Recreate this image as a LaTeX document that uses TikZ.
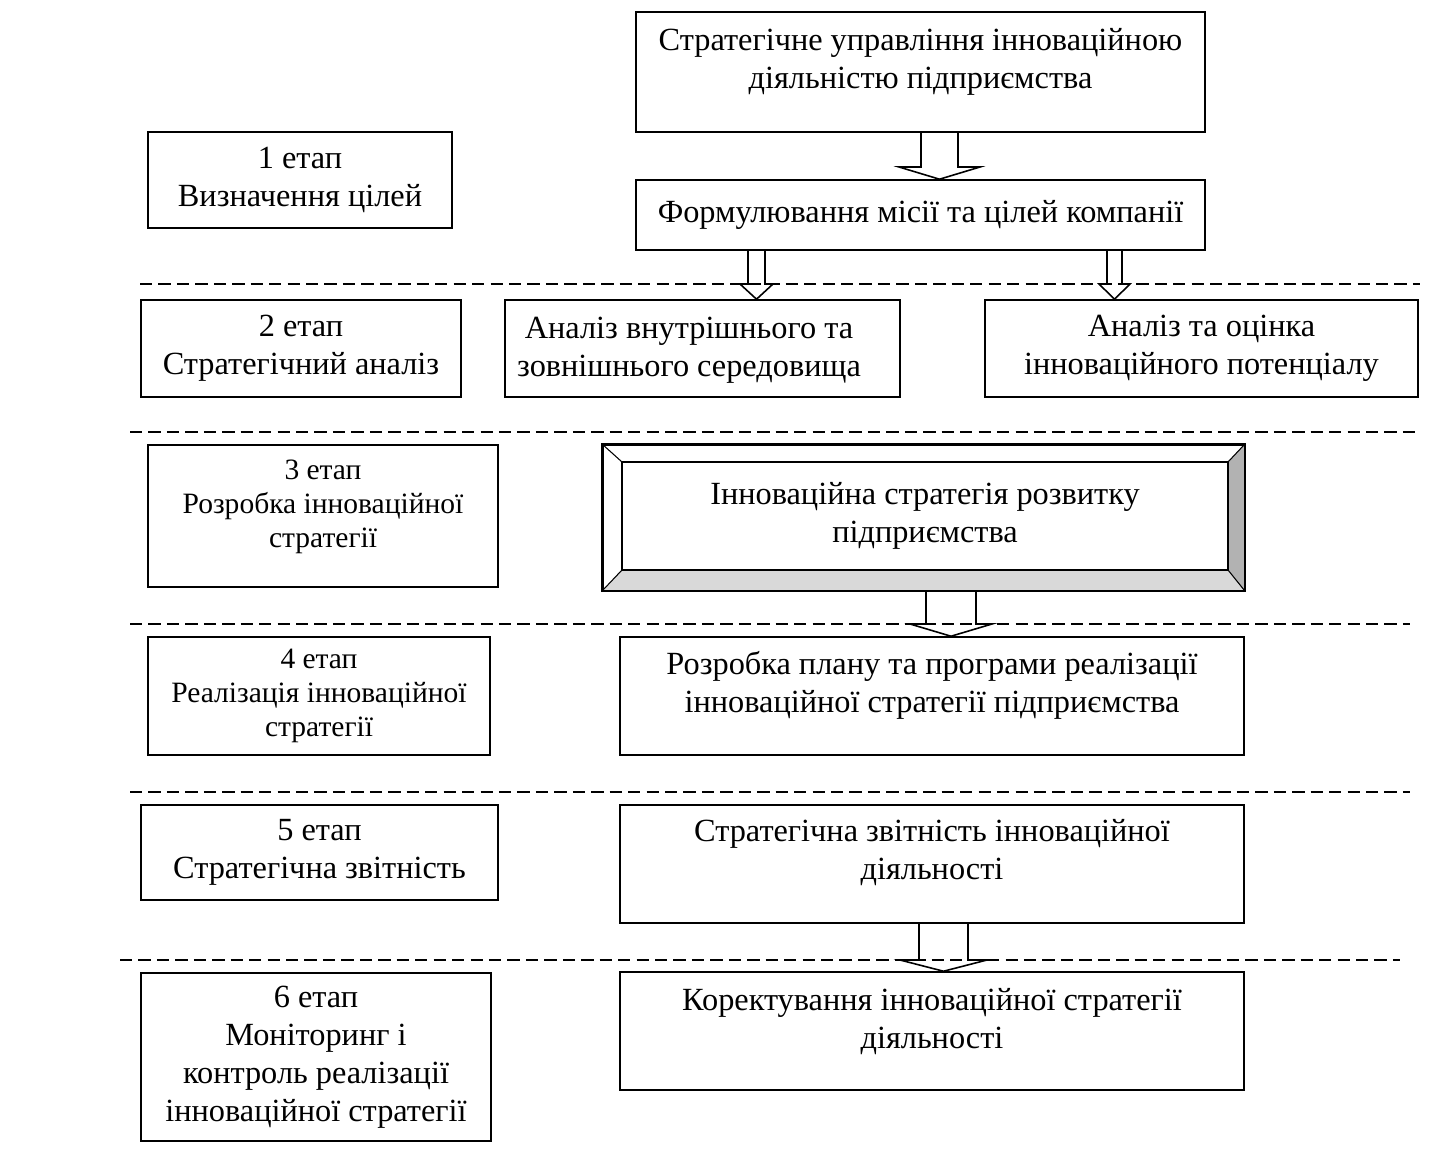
\documentclass[tikz,border=0pt]{standalone}
\usepackage{fontspec}
\setmainfont{Liberation Serif}

\begin{document}
\begin{tikzpicture}[
  x=0.02cm, y=-0.02cm,
  %% Plain framed boxes
  box/.style={
    draw=black, line width=0.9pt, rectangle, fill=white, inner sep=0pt
  },
  %% Box texts — main size and the smaller one of stages 3 and 4
  txt/.style={align=center, inner sep=0pt, font=\fontsize{18.4}{21.6}\selectfont},
  stxt/.style={align=center, inner sep=0pt, font=\fontsize{16.8}{19.3}\selectfont},
  %% Hollow block arrows and the dashed stage separators
  barr/.style={draw=black, line width=0.9pt},
  sep/.style={line width=1.1pt, dash pattern=on 7pt off 3.5pt}
]
\useasboundingbox (0,0) rectangle (1436,1165);

%% ── Stage separators ─────────────────────────────────────────
\draw[sep] (140, 284) -- (1420, 284);
\draw[sep] (130, 432) -- (1420, 432);
\draw[sep] (130, 624) -- (1410, 624);
\draw[sep] (130, 792) -- (1410, 792);
\draw[sep] (120, 960) -- (1400, 960);

%% ── Stage column ─────────────────────────────────────────────
\node[box, txt, minimum width=6.08cm, minimum height=1.92cm] (st1) at (300, 180)
  {1 етап\\Визначення цілей};
\node[box, txt, minimum width=6.40cm, minimum height=1.94cm] (st2) at (301, 348.5)
  {2 етап\\Стратегічний аналіз};
\node[box, minimum width=7.00cm, minimum height=2.84cm] (st3) at (323, 516) {};
\node[stxt] (st3t) at (323, 507)
  {3 етап\\Розробка інноваційної\\стратегії};
\node[box, stxt, minimum width=6.84cm, minimum height=2.36cm] (st4) at (319, 696)
  {4 етап\\Реалізація інноваційної\\стратегії};
\node[box, txt, minimum width=7.14cm, minimum height=1.90cm] (st5) at (319.5, 852.5)
  {5 етап\\Стратегічна звітність};
\node[box, txt, minimum width=7.00cm, minimum height=3.36cm] (st6) at (316, 1057)
  {6 етап\\Моніторинг і\\контроль реалізації\\інноваційної стратегії};

%% ── Main column ──────────────────────────────────────────────
\node[box, minimum width=11.38cm, minimum height=2.40cm] (strat) at (920.5, 72) {};
\node[txt] (stratt) at (920.5, 62)
  {Стратегічне управління інноваційною\\діяльністю підприємства};

\node[box, txt, minimum width=11.38cm, minimum height=1.40cm] (form) at (920.5, 215)
  {Формулювання місії та цілей компанії};

\node[box, minimum width=7.90cm, minimum height=1.94cm] (env) at (702.5, 348.5) {};
\node[txt] (envt) at (689, 350)
  {Аналіз внутрішнього та\\зовнішнього середовища};
\node[box, txt, minimum width=8.66cm, minimum height=1.94cm] (pot) at (1201.5, 348.5)
  {Аналіз та оцінка\\інноваційного потенціалу};

%% bevelled strategy box
\node[box, minimum width=12.82cm, minimum height=2.90cm] (isto) at (923.5, 517.5) {};
\fill[gray!30] (isto.south west) -- (isto.south east) -- (1228, 570) -- (622, 570) -- cycle;
\fill[gray!60] (isto.south east) -- (isto.north east) -- (1228, 462) -- (1228, 570) -- cycle;
\draw[line width=0.6pt] (isto.north west) -- (622, 462)
  (isto.north east) -- (1228, 462)
  (isto.south west) -- (622, 570)
  (isto.south east) -- (1228, 570);
\draw[line width=0.9pt] (isto.north west) rectangle (isto.south east);
\node[box, txt, minimum width=12.12cm, minimum height=2.16cm] (isti) at (925, 516)
  {Інноваційна стратегія розвитку\\підприємства};

\node[box, minimum width=12.48cm, minimum height=2.36cm] (plan) at (932, 696) {};
\node[txt] (plant) at (932, 685)
  {Розробка плану та програми реалізації\\інноваційної стратегії підприємства};

\node[box, minimum width=12.48cm, minimum height=2.36cm] (rep) at (932, 864) {};
\node[txt] (rept) at (932, 853)
  {Стратегічна звітність інноваційної\\діяльності};

\node[box, minimum width=12.48cm, minimum height=2.36cm] (corr) at (932, 1031) {};
\node[txt] (corrt) at (932, 1022)
  {Коректування інноваційної стратегії\\діяльності};

%% ── Block arrows ─────────────────────────────────────────────
\draw[barr] (921,0 |- strat.south) -- (921, 167) -- (899, 167)
  -- (939.5,0 |- form.north) -- (980, 167) -- (958, 167) -- (958,0 |- strat.south);
\draw[barr] (748,0 |- form.south) -- (748, 284) -- (740, 284)
  -- (756.5,0 |- env.north) -- (773, 284) -- (765, 284) -- (765,0 |- form.south);
\draw[barr] (1107,0 |- form.south) -- (1107, 284) -- (1099, 284)
  -- (1114.5,0 |- pot.north) -- (1130, 284) -- (1122, 284) -- (1122,0 |- form.south);
\draw[barr] (926,0 |- isto.south) -- (926, 624) -- (910, 624)
  -- (951,0 |- plan.north) -- (992, 624) -- (976, 624) -- (976,0 |- isto.south);
\draw[barr] (919,0 |- rep.south) -- (919, 960) -- (900, 960)
  -- (943.5,0 |- corr.north) -- (987, 960) -- (968, 960) -- (968,0 |- rep.south);

\end{tikzpicture}
\end{document}
